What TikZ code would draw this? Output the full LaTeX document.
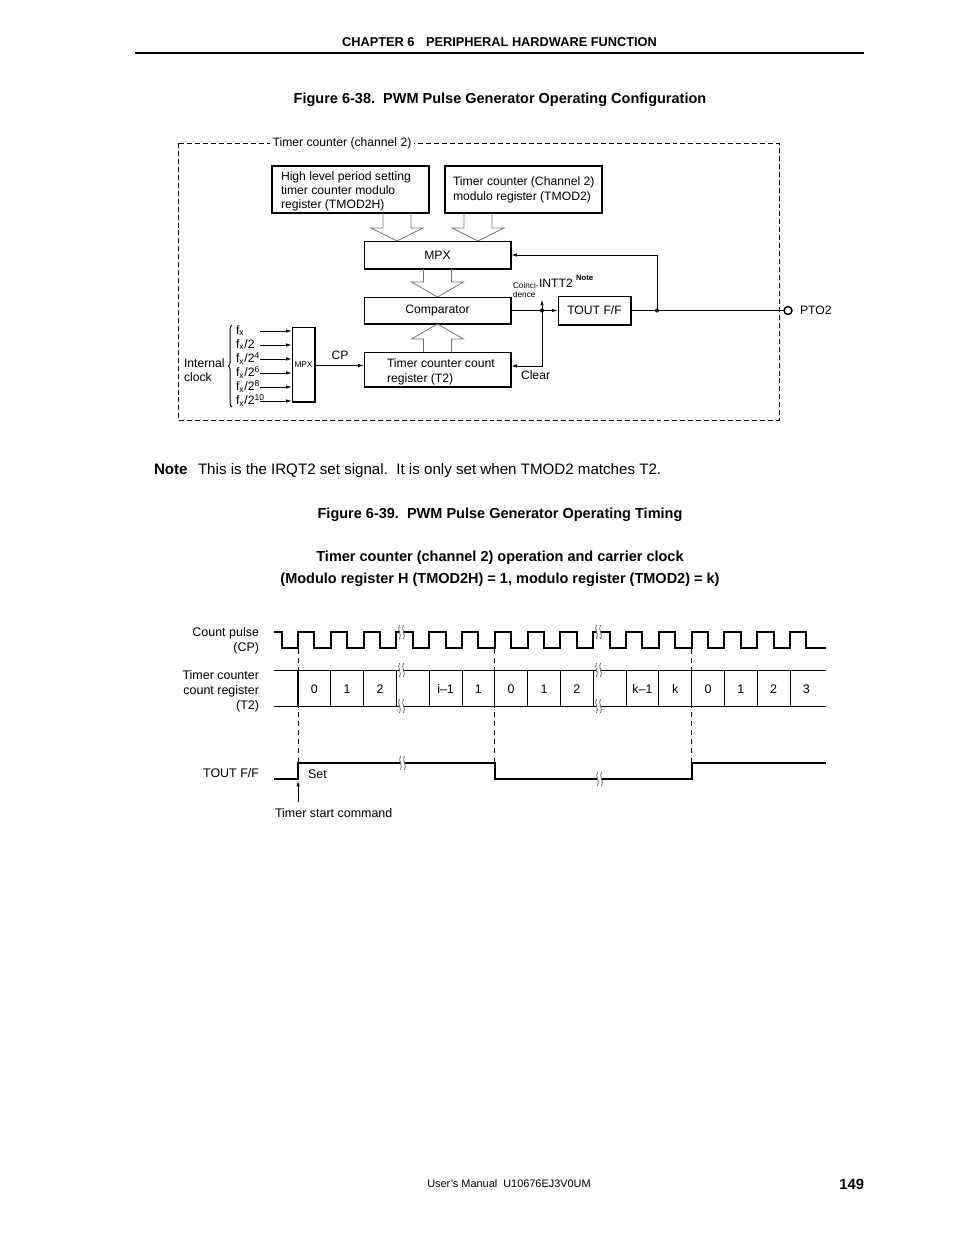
\documentclass[tikz,border=0pt]{standalone}
\usepackage{fontspec}
\setmainfont{Liberation Sans}
\usetikzlibrary{arrows.meta,decorations.pathreplacing,calc}
\frenchspacing
\def\pxu{0.6413pt}
\newcommand\brkmark[2]{%
  \fill[white] (#1-3.5,#2-7) .. controls (#1-6.5,#2-3) and (#1-0.5,#2+3) .. (#1-3.5,#2+7)
     -- (#1+0.5,#2+7) .. controls (#1+3.5,#2+3) and (#1-2.5,#2-3) .. (#1+0.5,#2-7) -- cycle;
  \draw[brk] (#1-3.5,#2-7) .. controls (#1-6.5,#2-3) and (#1-0.5,#2+3) .. (#1-3.5,#2+7);
  \draw[brk] (#1+0.5,#2-7) .. controls (#1-2.5,#2-3) and (#1+3.5,#2+3) .. (#1+0.5,#2+7);
}
\newcommand\blockarrow[4]{%
  \path (#1,0 |- #2) coordinate (ba1) (#1,0 |- #3) coordinate (ba2);
  \draw[hollowarr] ($(ba1)+(-14,0)$) -- ($(ba2)+(-14,#4)$) -- ($(ba2)+(-26,#4)$) -- (ba2)
     -- ($(ba2)+(26,#4)$) -- ($(ba2)+(14,#4)$) -- ($(ba1)+(14,0)$);
}
\begin{document}
\begin{tikzpicture}[x=0.6413pt,y=-0.6413pt,
  every node/.style={inner sep=0pt,outer sep=0pt},
  lbl/.style={font=\fontsize{7.8}{9}\selectfont},
  tiny5/.style={font=\fontsize{5.3}{6.2}\selectfont},
  tlbl/.style={font=\fontsize{8}{9.6}\selectfont,yshift=-0.6pt},
  bodytxt/.style={font=\fontsize{9.7}{12}\selectfont},
  headtxt/.style={font=\bfseries\fontsize{9.3}{11}\selectfont,yshift=-1.2pt},
  regbox/.style={draw,line width=1.3pt},
  blk/.style={draw,line width=0.6pt},
  conn/.style={line width=0.6pt},
  arr/.style={conn,-{Latex[length=3.8pt,width=2.2pt]}},
  hollowarr/.style={draw=black!55,line width=0.5pt,line join=miter},
  wavln/.style={line width=1.3pt,line join=miter},
  gridln/.style={line width=0.65pt},
  guideln/.style={line width=0.6pt,dash pattern=on 3.2pt off 2.6pt},
  brk/.style={draw=black!60,line width=0.5pt},
  dotn/.style={circle,fill,minimum size=2.6pt},
]
\useasboundingbox (0,0) rectangle (954,1235);

% ---------- page header ----------
\node[font=\bfseries\fontsize{8.2}{10}\selectfont,yshift=-0.6pt] (chap) at (499.5,41) {CHAPTER 6\hspace{0.9em}PERIPHERAL HARDWARE FUNCTION};
\draw[line width=0.7pt] (135,53) -- (864,53);
\node[headtxt] (fig38) at (500,98) {Figure 6-38.\ \ PWM Pulse Generator Operating Configuration};

% ---------- block diagram ----------
\draw[line width=0.6pt,dash pattern=on 3.2pt off 1.9pt] (178,143) rectangle (779,420);
\node[lbl,fill=white,inner xsep=1.5pt,inner ysep=1pt,yshift=-0.5pt] (frlbl) at (342,143) {Timer counter (channel 2)};

\node[regbox,minimum width=157*\pxu,minimum height=47*\pxu] (hreg) at (350.5,189.5) {};
\node[lbl,align=left,anchor=west] (hregt) at (281,191) {High level period setting\\timer counter modulo\\register (TMOD2H)};
\node[regbox,minimum width=157*\pxu,minimum height=47*\pxu] (mreg) at (523.5,189.5) {};
\node[font=\fontsize{7.8}{9.5}\selectfont,align=left,anchor=west] (mregt) at (453,189.5) {Timer counter (Channel 2)\\modulo register (TMOD2)};

\node[blk,lbl,minimum width=147*\pxu,minimum height=28*\pxu] (mpx) at (437.5,255) {MPX};
\node[blk,lbl,minimum width=147*\pxu,minimum height=27*\pxu] (cmp) at (437.5,310.5) {Comparator};
\node[blk,minimum width=147*\pxu,minimum height=35*\pxu] (tcr) at (437.5,369.5) {};
\node[font=\fontsize{7.8}{9.6}\selectfont,align=left,anchor=west] (tcrt) at (387,371.5) {Timer counter count\\register (T2)};
\node[blk,lbl,minimum width=73*\pxu,minimum height=29*\pxu] (tff) at (594.5,310.5) {TOUT F/F};
\node[blk,tiny5,minimum width=23*\pxu,minimum height=75*\pxu] (smpx) at (303.5,364.5) {MPX};
\foreach \n in {mpx,cmp,tcr,tff,smpx}
  \draw[line width=1.3pt] (\n.north east) -- (\n.south east) -- (\n.south west);

\blockarrow{397}{hreg.south}{mpx.north}{-13}
\blockarrow{478}{mreg.south}{mpx.north}{-13}
\blockarrow{437.5}{mpx.south}{cmp.north}{-15}
\blockarrow{437.5}{tcr.north}{cmp.south}{15}

% clock inputs
\foreach \i/\t in {0/{f\textsubscript{x}},1/{f\textsubscript{x}/2},2/{f\textsubscript{x}/2\textsuperscript{4}},3/{f\textsubscript{x}/2\textsuperscript{6}},4/{f\textsubscript{x}/2\textsuperscript{8}},5/{f\textsubscript{x}/2\textsuperscript{10}}}{
  \pgfmathsetmacro\yy{331+14*\i}
  \pgfmathsetmacro\yl{330.5+14*\i}
  \node[lbl,anchor=west] (fx\i) at (236,\yl) {\t};
  \coordinate (in\i) at (260,\yy);
  \draw[arr] (in\i) -- (smpx.west |- in\i);
}
\draw[conn,decorate,decoration={brace,amplitude=2.4pt}] (232,407) -- (232,325);
\node[lbl,align=left,anchor=west] (intclk) at (184,370) {Internal\\clock};

\coordinate (cpy) at (0,365.5);
\draw[arr] (smpx.east |- cpy) -- (tcr.west |- cpy);
\node[lbl] (cplbl) at (340,355) {CP};

\node[dotn] (j1) at (542,310.5) {};
\node[dotn] (j2) at (657,310.5) {};
\draw[arr] (cmp.east) -- (tff.west);
\coordinate (clry) at (0,366);
\draw[arr] (j1.center) |- (tcr.east |- clry);
\draw[arr] (j1.center) -- ++(0,-11) coordinate (inttip);
\node[circle,draw,line width=0.9pt,minimum size=8*\pxu] (pto) at (788,310.5) {};
\draw[conn] (tff.east) -- (pto.west);
\draw[arr] (j2.center) |- (mpx.east);

\node[tiny5,align=left,anchor=west] (coinc) at (513,290) {Coinci-\\dence};
\node[lbl,anchor=west] (intt) at (539,283) {INTT2};
\node[font=\bfseries\fontsize{5}{6}\selectfont,anchor=west] (intn) at (576,277.5) {Note};
\node[lbl,anchor=west] (clr) at (521,375.5) {Clear};
\node[lbl,anchor=west] (ptol) at (800,310.5) {PTO2};

% ---------- note and captions ----------
\node[font=\bfseries\fontsize{9.7}{12}\selectfont,anchor=base west] (notek) at (154,474) {Note};
\node[bodytxt,anchor=base west] (notet) at (198,474) {This is the IRQT2 set signal.\ \ It is only set when TMOD2 matches T2.};
\node[headtxt] (fig39) at (500,513) {Figure 6-39.\ \ PWM Pulse Generator Operating Timing};
\node[headtxt] (sub1) at (500,556) {Timer counter (channel 2) operation and carrier clock};
\node[headtxt] (sub2) at (500,578) {(Modulo register H (TMOD2H) = 1, modulo register (TMOD2) = k)};

% ---------- timing diagram ----------
\node[tlbl,align=right,anchor=east] (cpl) at (259,639.5) {Count pulse\\(CP)};
\node[tlbl,align=right,anchor=east] (t2l) at (259,690) {Timer counter\\count register\\(T2)};
\node[tlbl,anchor=east] (toutl) at (259,772) {TOUT F/F};
\node[tlbl,anchor=west] (tsc) at (275,812) {Timer start command};
\node[tlbl,anchor=west] (setl) at (308,773) {Set};

% guide lines
\foreach \n in {0,6,12}
  \draw[guideln] ({298+\n*32.8},649) -- ({298+\n*32.8},763);

% count pulse
\draw[wavln] (274,632) -| (281.6,648)
  \foreach \n in {0,...,15}{ -| ({298+\n*32.8},632) -| ({298+(\n+0.5)*32.8},648) } -- (826,648);

% count register
\draw[gridln] (274,670) -- (826,670);
\draw[gridln] (274,706) -- (826,706);
\foreach \n in {0,...,15}
  \draw[gridln] ({298+\n*32.8},670) -- ({298+\n*32.8},706);
\foreach \n/\v in {0/0,1/1,2/2,4/{i–1},5/1,6/0,7/1,8/2,10/{k–1},11/k,12/0,13/1,14/2,15/3}
  \node[tlbl] (c\n) at ({298+(\n+0.5)*32.8},688) {\v};

% TOUT F/F
\draw[wavln] (274,779) -| (298,763) -| (494.8,779) -| (691.6,763) -- (826,763);
\coordinate (tsa) at (298,802);
\draw[arr] (tsa) -- (298,780.5);

% breaks
\brkmark{403}{632}
\brkmark{600}{632}
\brkmark{403}{670}
\brkmark{403}{706}
\brkmark{600}{670}
\brkmark{600}{706}
\brkmark{404}{763}
\brkmark{601}{779}

% ---------- footer ----------
\node[font=\fontsize{7}{8}\selectfont,yshift=-0.6pt] (foot) at (509,1183) {User’s Manual\ \ U10676EJ3V0UM};
\node[font=\bfseries\fontsize{9.5}{11}\selectfont,anchor=east,yshift=-0.6pt] (pg) at (864,1183) {149};
\end{tikzpicture}
\end{document}
